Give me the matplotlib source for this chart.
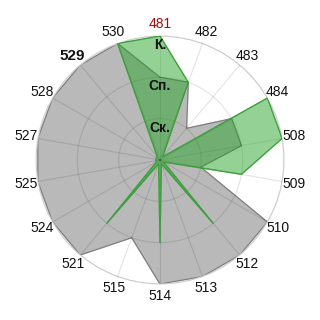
import numpy as np
import matplotlib
matplotlib.use('Agg')
import matplotlib.pyplot as plt

plt.rcParams['font.family'] = ['Liberation Sans', 'DejaVu Sans']

# categories around the circle, clockwise from the top
categories = ['481', '482', '483', '484', '508', '509', '510', '512', '513',
              '514', '515', '521', '524', '525', '527', '528', '529', '530']
# grey series (levels 0..3)
grey_vals = [2, 2, 1, 2, 2, 1, 3, 3, 3, 3, 2, 3, 3, 3, 3, 3, 3, 3]
# green series
green_vals = [3, 2, 0.1, 3, 3, 2, 0.1, 2, 0.1, 2, 0.1, 2, 0.1, 0.1, 0.1, 0.1, 0.1, 3]
# ring levels and their names
levels = [1, 2, 3]
level_names = ['Ск.', 'Сп.', 'К.']

n = len(categories)
theta = np.linspace(0, 2 * np.pi, n, endpoint=False)
th = np.append(theta, theta[0])
grey = np.append(grey_vals, grey_vals[0])
green = np.append(green_vals, green_vals[0])

fig = plt.figure(figsize=(3.2, 3.2), dpi=100)
ax = fig.add_axes([0.1125, 0.1125, 0.775, 0.775], projection='polar')
ax.set_theta_zero_location('N')
ax.set_theta_direction(-1)

ax.fill(th, grey, color='#b9b9b9', zorder=1)
ax.plot(th, grey, color='#7c7c7c', lw=0.8, zorder=2)
ax.fill(th, green, color='#2aa52a', alpha=0.5, zorder=3)
ax.plot(th, green, color='#3d9e3d', lw=0.8, zorder=4)

ax.set_ylim(0, 3)
ax.set_yticks(levels)
ax.set_yticklabels([])
ax.set_xticks(theta)
ax.set_xticklabels(categories, fontsize=10, color='#111111')
ax.tick_params(axis='x', pad=-2)
for lab in ax.get_xticklabels():
    if lab.get_text() == '481':
        lab.set_color('#9a0f0f')
    if lab.get_text() == '529':
        lab.set_fontweight('bold')
        lab.set_fontsize(11)

ax.set_axisbelow(False)
ax.grid(color='black', alpha=0.11, lw=0.8)
ax.spines['polar'].set_color('#dadada')
ax.spines['polar'].set_linewidth(0.9)

# ring names along the top spoke
for lv, name in zip(levels, level_names):
    ax.text(0, lv - 0.22, name, ha='center', va='center', fontsize=10,
            fontweight='bold', color='#111111', zorder=6)

fig.savefig('out.png', dpi=100)
